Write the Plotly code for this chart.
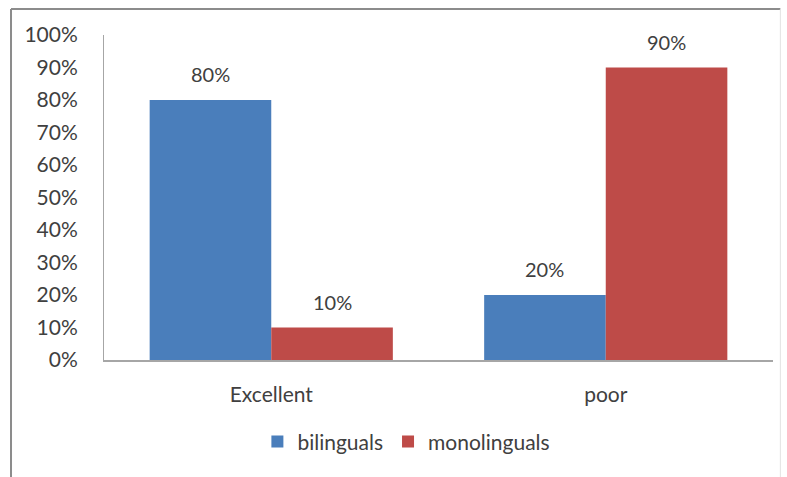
import plotly.graph_objects as go

categories = ["Excellent", "poor"]
series_names = ["bilinguals", "monolinguals"]
bilinguals = [0.80, 0.20]
monolinguals = [0.10, 0.90]
series_values = [bilinguals, monolinguals]
colors = ["#4a7ebb", "#be4b48"]
y_ticks = [i / 10 for i in range(11)]
y_tick_labels = [f"{i * 10}%" for i in range(11)]

FONT = "Lato"
TEXT = "#404040"
SIZE = 21
BARGAP = 0.273

fig = go.Figure()
for name, vals, col in zip(series_names, series_values, colors):
    fig.add_trace(go.Bar(
        name=name, x=categories, y=vals,
        marker=dict(color=col, line=dict(width=0)),
    ))

# value labels above each bar, placed at the grouped bar centres
n = len(series_names)
bar_w = (1 - BARGAP) / n
for si, vals in enumerate(series_values):
    offset = -(1 - BARGAP) / 2 + bar_w * (si + 0.5)
    for ci, v in enumerate(vals):
        fig.add_annotation(
            x=ci + offset, y=v, xref="x", yref="y",
            text=f"{round(v * 100)}%", showarrow=False,
            yanchor="bottom", yshift=12,
            font=dict(family=FONT, size=SIZE - 1, color=TEXT),
        )

# outer chart frame: darker top/left edges, faint right edge
frame = dict(xref="paper", yref="paper", layer="below")
fig.add_shape(type="line", x0=-0.139, x1=1.011, y0=1.08, y1=1.08,
              line=dict(color="#8c8c8c", width=2), **frame)
fig.add_shape(type="line", x0=-0.139, x1=-0.139, y0=-0.4, y1=1.08,
              line=dict(color="#8c8c8c", width=2), **frame)
fig.add_shape(type="line", x0=1.011, x1=1.011, y0=-0.4, y1=1.08,
              line=dict(color="#e2e2e2", width=1), **frame)

fig.update_layout(
    width=787, height=477,
    margin=dict(l=104, r=14, t=35, b=117),
    paper_bgcolor="white", plot_bgcolor="white",
    bargap=BARGAP, bargroupgap=0, barmode="group",
    font=dict(family=FONT, size=SIZE, color=TEXT),
    showlegend=True,
    legend=dict(orientation="h", x=0.452, xanchor="center",
                y=-0.252, yanchor="middle",
                font=dict(family=FONT, size=SIZE, color=TEXT),
                itemwidth=30, tracegroupgap=0),
)
fig.update_xaxes(
    showline=True, linecolor="#a6a6a6", linewidth=2,
    showgrid=False, ticks="", ticklabelstandoff=15,
    tickfont=dict(family=FONT, size=SIZE, color=TEXT),
)
fig.update_yaxes(
    range=[0, 1], tickvals=y_ticks, ticktext=y_tick_labels,
    showline=True, linecolor="#a6a6a6", linewidth=1,
    showgrid=False, zeroline=False, ticks="", ticklabelstandoff=21,
    tickfont=dict(family=FONT, size=SIZE, color=TEXT),
)

fig.write_html("out.html")
